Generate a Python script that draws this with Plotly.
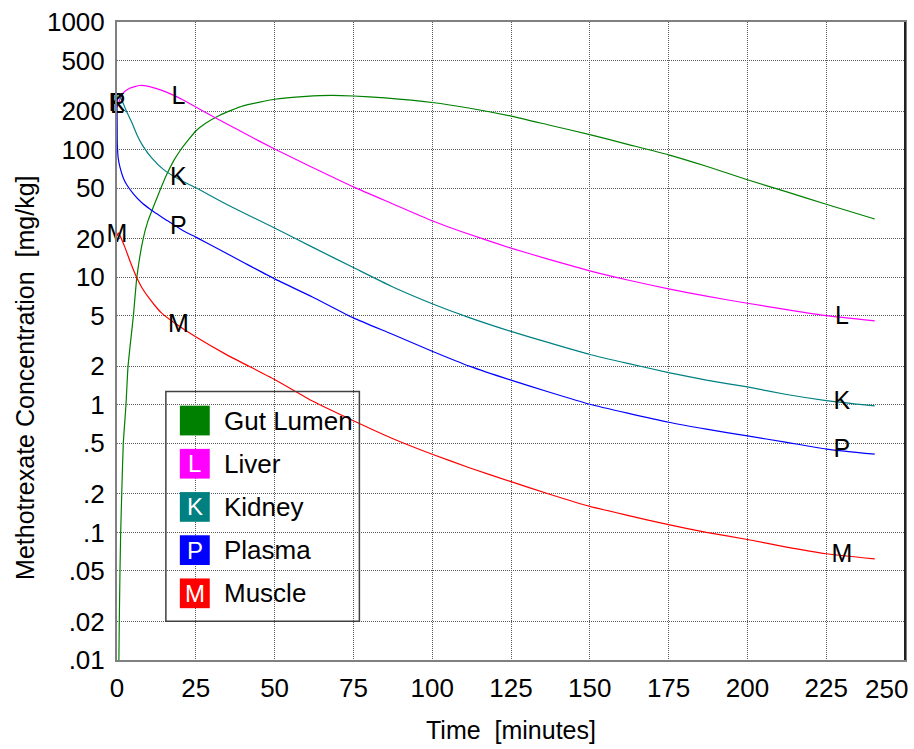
import numpy as np
import plotly.graph_objects as go

# ---------------- data ----------------
gut_t = [0.6, 0.73, 0.95, 1.17, 1.5, 2.0, 2.85, 3.5, 5.2, 6.3, 8.3, 9.8, 12.7, 15.8, 18, 20,
         22.5, 25, 28, 32.6, 40, 50, 60, 68, 75, 85, 100, 112, 125, 137, 150, 162, 175, 187,
         200, 212, 225, 240.4]
gut_v = [0.01, 0.02, 0.05, 0.1, 0.2, 0.5, 1.0, 2.0, 5.0, 10, 20, 27.5, 42, 64, 82, 98,
         118, 140, 160, 186, 220, 248, 261, 266, 263, 254, 234, 211, 183, 156, 131, 110, 91, 74,
         58, 47, 37.3, 28.6]

liver_t = [0, 1, 2, 4, 7.3, 10, 15.7, 21, 25, 30, 40, 50, 62, 75, 87, 100, 108.5, 125, 137,
           150, 162, 175, 187, 200, 212, 225, 240.4]
liver_v = [215, 250, 278, 303, 318, 313, 282, 245, 216, 184, 136, 101, 72.5, 51, 38, 27.7, 23.1,
           16.9, 13.8, 11.2, 9.5, 8.1, 7.1, 6.25, 5.6, 5.0, 4.55]

kidney_t = [0, 0.4, 1.5, 3, 4.6, 6.5, 8.3, 11, 14.7, 19.9, 25, 35, 50, 62, 75, 87, 100, 112,
            125, 137, 150, 162, 175, 187, 200, 212, 225, 240.4]
kidney_v = [225, 272, 245, 200, 165, 128, 106, 86, 70, 58, 50.2, 37, 24.3, 17.2, 11.9, 8.5, 6.2,
            4.8, 3.76, 3.07, 2.48, 2.11, 1.79, 1.56, 1.38, 1.21, 1.08, 0.98]

plasma_t = [0, 0.05, 0.1, 0.4, 1.0, 2.0, 3.1, 5.2, 7.8, 10.4, 13, 15.7, 21, 25, 32.6, 40, 50, 62,
            75, 87, 100, 112, 125, 137, 150, 162, 175, 187, 200, 212, 225, 240.4]
plasma_v = [225, 160, 110, 85, 72, 60, 53, 45, 38.5, 34.3, 31, 28, 23.1, 20.6, 16.4, 13.1, 9.7,
            7.0, 4.8, 3.6, 2.63, 2.0, 1.56, 1.26, 1.01, 0.86, 0.73, 0.645, 0.57, 0.51, 0.45, 0.41]

muscle_t = [0, 0.4, 1.2, 2.5, 4.2, 6.2, 8, 9.9, 12, 14.1, 18.4, 24.7, 35, 50, 62, 75, 87, 100,
            112, 125, 137, 150, 162, 175, 187, 200, 212, 225, 240.4]
muscle_v = [21, 22.3, 20.5, 17.2, 13.2, 10, 8.2, 7.0, 6.0, 5.25, 4.35, 3.44, 2.45, 1.58, 1.07,
            0.75, 0.55, 0.41, 0.32, 0.25, 0.2, 0.16, 0.136, 0.115, 0.1, 0.088, 0.077, 0.068, 0.062]

series_names = ["Gut Lumen", "Liver", "Kidney", "Plasma", "Muscle"]
series_letters = ["", "L", "K", "P", "M"]
series_colors = ["#008000", "#FF00FF", "#008080", "#0000FF", "#FF0000"]
series_t = [gut_t, liver_t, kidney_t, plasma_t, muscle_t]
series_v = [gut_v, liver_v, kidney_v, plasma_v, muscle_v]

label_times = [0, 19.5, 230]

y_tickvals = [0.01, 0.02, 0.05, 0.1, 0.2, 0.5, 1, 2, 5, 10, 20, 50, 100, 200, 500, 1000]
y_ticktext = [".01", ".02", ".05", ".1", ".2", ".5", "1", "2", "5", "10", "20", "50",
              "100", "200", "500", "1000"]
x_tickvals = [0, 25, 50, 75, 100, 125, 150, 175, 200, 225, 250]
x_ticktext = ["0", "25", "50", "75", "100", "125", "150", "175", "200", "225", "250"]

x_title = "Time  [minutes]"
y_title = "Methotrexate Concentration  [mg/kg]"

# ---------------- layout geometry ----------------
W, H = 914, 749
L_M, R_M, T_M, B_M = 117, 7, 16, 89
PW, PH = W - L_M - R_M, H - T_M - B_M
FONT = "Liberation Sans, Arial, sans-serif"
TICK_SIZE = 26


def px(xp):
    return (xp - L_M) / PW


def py(yp):
    return (H - B_M - yp) / PH


fig = go.Figure()

for name, col, t, v in zip(series_names, series_colors, series_t, series_v):
    fig.add_trace(go.Scatter(x=t, y=v, mode="lines", name=name,
                             line=dict(color=col, width=1.2, shape="spline", smoothing=0.5),
                             showlegend=False))

# letter labels on curves
for name, letter, t, v in zip(series_names, series_letters, series_t, series_v):
    if not letter:
        continue
    lx, ly = [], []
    for lt in label_times:
        lx.append(lt)
        ly.append(10 ** np.interp(lt, t, np.log10(v)))
    fig.add_trace(go.Scatter(x=lx, y=ly, mode="text", text=[letter] * len(lx),
                             textposition="middle center", cliponaxis=False,
                             textfont=dict(family=FONT, size=25, color="black"),
                             showlegend=False, hoverinfo="skip"))

shapes = []
annotations = []

# right border in black
shapes.append(dict(type="line", xref="paper", yref="paper", x0=1, x1=1, y0=0, y1=1,
                   line=dict(color="#202020", width=2)))

# custom legend
box = (166, 389, 360, 621)
shapes.append(dict(type="rect", xref="paper", yref="paper",
                   x0=px(box[0]), x1=px(box[2]), y0=py(box[3]), y1=py(box[1]),
                   line=dict(color="#404040", width=1.5), fillcolor="rgba(0,0,0,0)"))
row_y0 = 418.3
row_dy = 43.6
for i, (name, letter, col) in enumerate(zip(series_names, series_letters, series_colors)):
    cy = row_y0 + i * row_dy
    shapes.append(dict(type="rect", xref="paper", yref="paper",
                       x0=px(180), x1=px(210), y0=py(cy + 15), y1=py(cy - 15),
                       line=dict(width=0), fillcolor=col))
    if letter:
        annotations.append(dict(x=px(195), y=py(cy), xref="paper", yref="paper",
                                text=letter, showarrow=False, xanchor="center", yanchor="middle",
                                font=dict(family=FONT, size=24, color="white")))
    annotations.append(dict(x=px(222), y=py(cy), xref="paper", yref="paper",
                            text=name, showarrow=False, xanchor="left", yanchor="middle",
                            font=dict(family=FONT, size=26, color="black")))

# last x tick label, kept inside the page as in the reference
annotations.append(dict(x=px(912), y=py(689), xref="paper", yref="paper", text=x_ticktext[-1],
                        showarrow=False, xanchor="right", yanchor="middle",
                        font=dict(family=FONT, size=TICK_SIZE, color="black")))
shown_x_ticktext = x_ticktext[:-1] + [""]

# axis titles
annotations.append(dict(x=px(512), y=py(731), xref="paper", yref="paper", text=x_title,
                        showarrow=False, xanchor="center", yanchor="middle",
                        font=dict(family=FONT, size=25, color="black")))
annotations.append(dict(x=px(24), y=py(375), xref="paper", yref="paper", text=y_title,
                        showarrow=False, xanchor="center", yanchor="middle", textangle=-90,
                        font=dict(family=FONT, size=25, color="black")))

grid_kw = dict(showgrid=True, gridcolor="#5a5a5a", griddash="1px,1px", gridwidth=1)

fig.update_layout(
    width=W, height=H,
    margin=dict(l=L_M, r=R_M, t=T_M, b=B_M, pad=0),
    paper_bgcolor="white", plot_bgcolor="white",
    font=dict(family=FONT, size=25, color="black"),
    shapes=shapes, annotations=annotations,
    xaxis=dict(range=[0, 250], tickvals=x_tickvals, ticktext=shown_x_ticktext, **grid_kw,
               showline=True, linecolor="#808080", linewidth=2, mirror=True,
               ticks="", zeroline=False, ticklabelstandoff=4,
               tickfont=dict(family=FONT, size=TICK_SIZE)),
    yaxis=dict(type="log", range=[-2, 3], tickvals=y_tickvals, ticktext=y_ticktext, **grid_kw,
               showline=True, linecolor="#808080", linewidth=2, mirror=True,
               ticks="", zeroline=False, ticklabelstandoff=5,
               tickfont=dict(family=FONT, size=TICK_SIZE)),
)

fig.write_html("out.html", config={"displayModeBar": False},
               post_script="document.body.style.margin='0';")
